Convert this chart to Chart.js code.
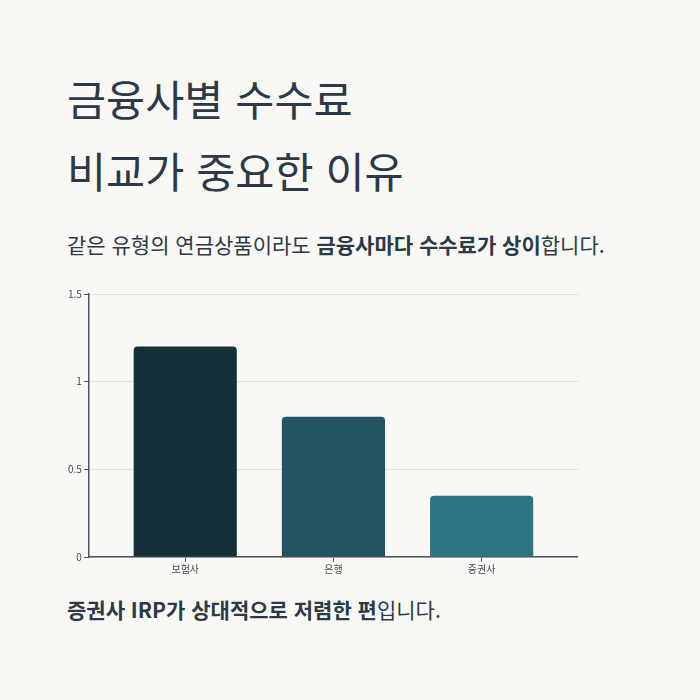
<!DOCTYPE html>
<html lang="ko">
<head>
<meta charset="utf-8">
<script src="https://cdn.jsdelivr.net/npm/chart.js@4/dist/chart.umd.min.js"></script>
<style>
    html, body { margin: 0; padding: 0; }
    body {
        width: 700px;
        height: 700px;
        background: #f9f8f4;
        font-family: "Noto Sans CJK KR", "Noto Sans", sans-serif;
        color: #2c3a48;
        position: relative;
        overflow: hidden;
    }
    h1 {
        position: absolute;
        left: 67px;
        top: 62px;
        margin: 0;
        font-size: 42.5px;
        font-weight: 400;
        line-height: 72px;
    }
    .sub {
        position: absolute;
        left: 67px;
        top: 229px;
        margin: 0;
        font-size: 21px;
        font-weight: 400;
    }
    .note {
        position: absolute;
        left: 67px;
        top: 594px;
        margin: 0;
        font-size: 21px;
    }
    b { font-weight: 700; }
    #chartBox {
        position: absolute;
        left: 66px;
        top: 286px;
        width: 512px;
        height: 290px;
    }
</style>
</head>
<body>
<h1>금융사별 수수료<br>비교가 중요한 이유</h1>
<p class="sub">같은 유형의 연금상품이라도 <b>금융사마다 수수료가 상이</b>합니다.</p>
<div id="chartBox"><canvas id="feeChart"></canvas></div>
<p class="note"><b>증권사 IRP가 상대적으로 저렴한 편</b>입니다.</p>

<script>
// 금융사별 수수료 (%)
const categories = ['보험사', '은행', '증권사'];
const feeValues = [1.2, 0.8, 0.35];
const barColors = ['#163039', '#235461', '#2e7584'];
const yTicks = [0, 0.5, 1, 1.5];

document.addEventListener('DOMContentLoaded', function() {
    const ctx = document.getElementById('feeChart').getContext('2d');
    // x축은 양 끝에 여백을 두려고 linear 스케일로 그림
    const points = categories.map((c, i) => ({ x: i, y: feeValues[i] }));
    new Chart(ctx, {
        type: 'bar',
        data: {
            datasets: [{
                data: points,
                backgroundColor: barColors,
                borderRadius: 4,
                borderSkipped: 'bottom',
                categoryPercentage: 0.8,
                barPercentage: 0.87
            }]
        },
        options: {
            responsive: true,
            maintainAspectRatio: false,
            animation: false,
            plugins: {
                legend: { display: false },
                tooltip: { enabled: false }
            },
            scales: {
                x: {
                    type: 'linear',
                    offset: false,
                    min: -0.65,
                    max: categories.length - 0.35,
                    afterBuildTicks: function(axis) {
                        axis.ticks = categories.map((c, i) => ({ value: i }));
                    },
                    grid: {
                        offset: false,
                        drawOnChartArea: false,
                        tickColor: '#4a5563',
                        tickLength: 5
                    },
                    border: { color: '#4a5563', width: 1.5 },
                    ticks: {
                        color: '#4b4b4b',
                        font: { family: 'Noto Sans CJK KR', size: 10 },
                        padding: 1,
                        callback: function(value) { return categories[value]; }
                    }
                },
                y: {
                    min: 0,
                    max: 1.5,
                    afterBuildTicks: function(axis) {
                        axis.ticks = yTicks.map(v => ({ value: v }));
                    },
                    grid: {
                        color: '#e2e1dc',
                        tickColor: '#4a5563',
                        tickLength: 5
                    },
                    border: { color: '#4a5563', width: 1.5 },
                    ticks: {
                        color: '#4b4b4b',
                        font: { family: 'Noto Sans CJK KR', size: 10 },
                        padding: 2,
                        callback: function(value) { return String(value); }
                    }
                }
            }
        }
    });
});
</script>
</body>
</html>
